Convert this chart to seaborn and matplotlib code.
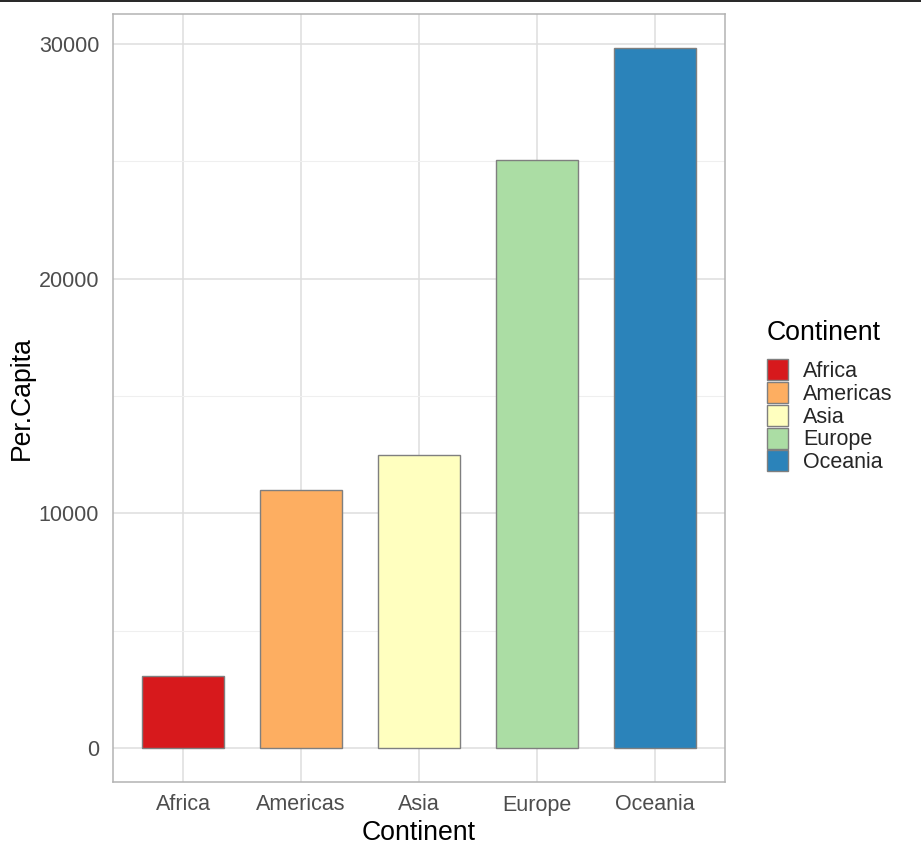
import matplotlib
matplotlib.use("Agg")
import matplotlib.pyplot as plt
import matplotlib.patches as mpatches
import seaborn as sns
import pandas as pd

# data
continents = ["Africa", "Americas", "Asia", "Europe", "Oceania"]
per_capita = [3070, 10995, 12485, 25055, 29830]
colors = ["#D7191C", "#FDAE61", "#FFFFBF", "#ABDDA4", "#2B83BA"]

df = pd.DataFrame({"Continent": continents, "Per.Capita": per_capita})

sns.set_style("white")
plt.rcParams["font.family"] = ["Liberation Sans", "DejaVu Sans"]

fig = plt.figure(figsize=(9.21, 8.58), dpi=100)
ax = fig.add_axes([113 / 921, 1 - 782 / 858, 612 / 921, 768 / 858])

sns.barplot(data=df, x="Continent", y="Per.Capita", hue="Continent",
            palette=colors, saturation=1, width=0.7, edgecolor="#7F7F7F",
            linewidth=1, legend=False, ax=ax, zorder=3)

ax.set_xlim(-0.593, 4.593)
ax.set_ylim(-1449, 31278)
ax.set_yticks([0, 10000, 20000, 30000])
ax.set_yticks([5000, 15000, 25000], minor=True)

# grid like theme_light
ax.grid(True, which="major", color="#DEDEDE", linewidth=1.1, zorder=0)
ax.grid(True, which="minor", axis="y", color="#EFEFEF", linewidth=0.8, zorder=0)
ax.set_axisbelow(True)
for s in ax.spines.values():
    s.set_color("#B3B3B3")
    s.set_linewidth(1.1)

ax.tick_params(axis="both", which="major", length=4, color="#B3B3B3",
               labelsize=15.5, labelcolor="#4D4D4D", pad=5)
ax.tick_params(axis="y", which="major", pad=6)
ax.tick_params(axis="y", which="minor", length=0)
ax.set_xlabel("Continent", fontsize=19.2, color="black", labelpad=3)
ax.set_ylabel("Per.Capita", fontsize=19.2, color="black", labelpad=3)

# legend (title drawn separately to get ggplot's gap)
fig.text(767 / 921, 1 - 333 / 858, "Continent", fontsize=19.2,
         ha="left", va="center", color="black")
handles = [mpatches.Patch(facecolor=c, edgecolor="#7F7F7F", linewidth=1, label=n)
           for n, c in zip(continents, colors)]
fig.legend(handles=handles, loc="upper left",
           bbox_to_anchor=(767 / 921, 1 - 359 / 858), frameon=False,
           fontsize=15.5, handlelength=0.98, borderpad=0,
           handleheight=1.13, handletextpad=0.7, labelspacing=0.0,
           borderaxespad=0)

# thin black line at top of image
fig.add_artist(plt.Line2D([0, 1], [1 - 0.5 / 858, 1 - 0.5 / 858],
                          color="black", linewidth=1.2, transform=fig.transFigure))

fig.savefig("out.png", dpi=100)
